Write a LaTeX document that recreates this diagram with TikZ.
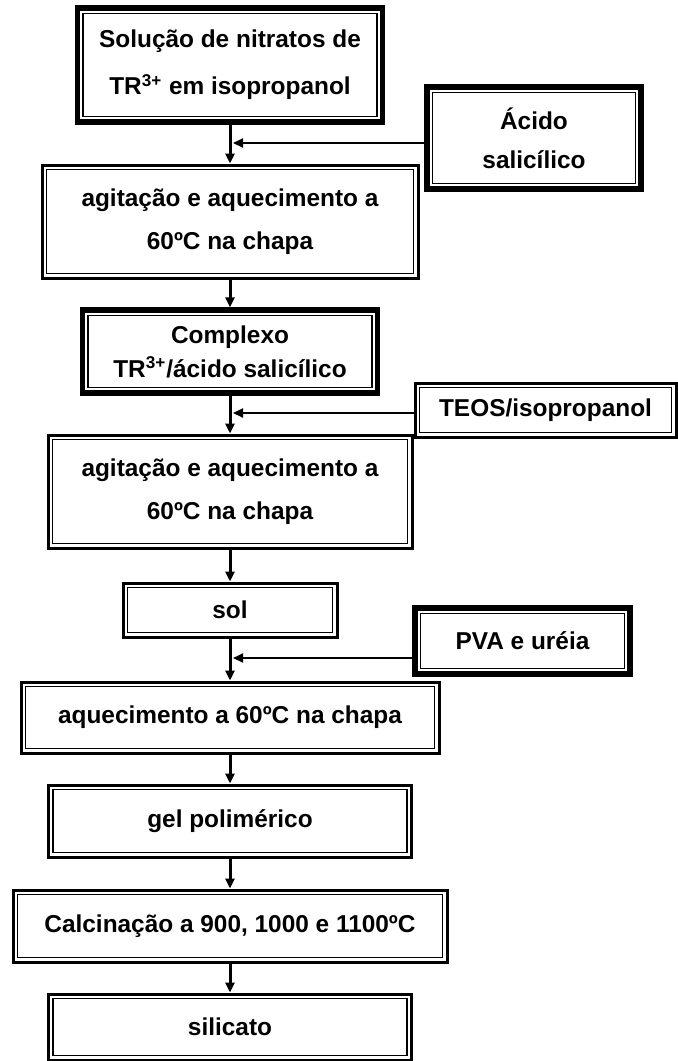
\documentclass[tikz,border=0pt]{standalone}
\usepackage{fontspec}
\setmainfont{Liberation Sans}
\usetikzlibrary{arrows.meta}

\begin{document}
\begin{tikzpicture}[
  x=0.5pt, y=-0.5pt,
  framed/.style 2 args={draw, line width=#1, align=center, inner sep=0pt,
    font=\bfseries\fontsize{12.2}{21.5}\selectfont,
    path picture={\draw[line width=0.7pt]
      ([shift={(#2,#2)}]path picture bounding box.south west) rectangle
      ([shift={(-#2,-#2)}]path picture bounding box.north east);}},
  stepbox/.style={framed={1.5pt}{2.2pt}},
  heavybox/.style={framed={2.6pt}{2.7pt}},
  flow/.style={-{Triangle[length=5pt,width=4.5pt]}, line width=1.5pt},
  feed/.style={-{Triangle[length=5pt,width=4.5pt]}, line width=1pt}
]
\useasboundingbox (0,0) rectangle (677,1061);

% main column
\node[heavybox, minimum width=152.5pt, minimum height=57pt, font=\bfseries\fontsize{12.2}{23.5}\selectfont] (solucao) at (230,65) {Solução de nitratos de\\TR\textsuperscript{3+} em isopropanol};
\node[stepbox, minimum width=188pt, minimum height=56.5pt] (agit1) at (230,221.5) {agitação e aquecimento a\\60ºC na chapa};
\node[heavybox, minimum width=147.5pt, minimum height=41.5pt, font=\bfseries\fontsize{12.2}{17}\selectfont] (complexo) at (230,351.5) {Complexo\\TR\textsuperscript{3+}/ácido salicílico};
\node[stepbox, minimum width=182pt, minimum height=56.5pt] (agit2) at (230,491.5) {agitação e aquecimento a\\60ºC na chapa};
\node[stepbox, minimum width=107pt, minimum height=27pt] (sol) at (230,610) {sol};
\node[stepbox, minimum width=209pt, minimum height=35.5pt] (aquec) at (230,717.5) {aquecimento a 60ºC na chapa};
\node[stepbox, minimum width=181.5pt, minimum height=36pt] (gel) at (230,821) {gel polimérico};
\node[stepbox, minimum width=217pt, minimum height=36pt] (calcin) at (230,926) {Calcinação a 900, 1000 e 1100ºC};
\node[stepbox, minimum width=181.5pt, minimum height=33pt] (silicato) at (230,1027) {silicato};

% reagents
\node[heavybox, minimum width=107pt, minimum height=51pt, font=\bfseries\fontsize{12.2}{19.5}\selectfont] (acido) at (534,138) {Ácido\\salicílico};
\node[stepbox, minimum width=130.5pt, minimum height=27pt] (teos) at (545.5,410) {TEOS/isopropanol};
\node[heavybox, minimum width=107.5pt, minimum height=33pt] (pva) at (522.5,641) {PVA e uréia};

\coordinate (j1) at (233,143);
\coordinate (j2) at (233,413);
\coordinate (j3) at (233,658);

\draw[flow] (solucao) -- (agit1);
\draw[flow] (agit1) -- (complexo);
\draw[flow] (complexo) -- (agit2);
\draw[flow] (agit2) -- (sol);
\draw[flow] (sol) -- (aquec);
\draw[flow] (aquec) -- (gel);
\draw[flow] (gel) -- (calcin);
\draw[flow] (calcin) -- (silicato);

\draw[feed] (acido.west |- j1) -- (j1);
\draw[feed] (teos.west |- j2) -- (j2);
\draw[feed] (pva.west |- j3) -- (j3);
\end{tikzpicture}
\end{document}
